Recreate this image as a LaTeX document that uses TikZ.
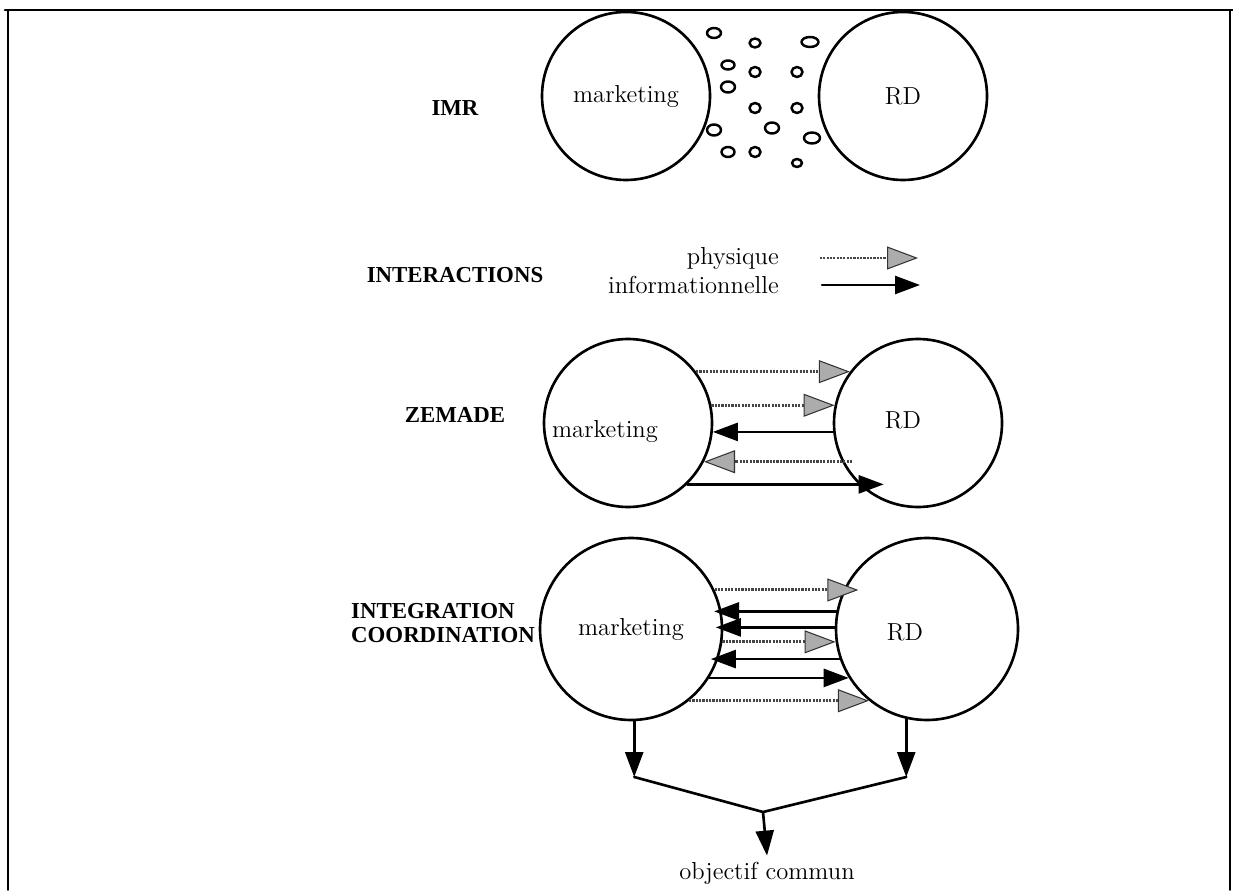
\documentclass[tikz,border=0pt]{standalone}
\usepackage{fontspec}
\usepackage{tikz}
\usetikzlibrary{arrows.meta,calc,positioning}
\newfontfamily\titrefont{Liberation Serif}

\begin{document}
\begin{tikzpicture}[scale=1.0,line cap=round,line join=round,x=1.0cm,y=1.0cm,
  bulle/.style={circle,draw,line width=1.5pt,minimum size=3.36cm,inner sep=0pt},
  grande/.style={bulle,minimum size=3.64cm},
  titre/.style={font=\titrefont\fontsize{13}{13.5}\selectfont\bfseries},
  texte/.style={font=\fontsize{14}{16}\selectfont},
  info/.style={line width=1.5pt,-{Triangle[length=0.5cm,width=0.36cm]}},
  phys/.style={draw=gray!55!black,line width=1.7pt,line cap=butt,dash pattern=on 1.2pt off 0.7pt,
    -{Triangle[length=0.62cm,width=0.46cm,fill=gray!65,color=gray!40!black,line width=0.6pt]}}]
\useasboundingbox (0,0) rectangle (24.66,17.8);
% cadre
\draw[line width=1pt] (0.16,0) -- (0.16,17.6);
\draw[line width=1.6pt] (0.1,17.6) -- (24.66,17.6);
\draw[line width=1pt] (24.6,17.6) -- (24.6,0);

% IMR
\node[titre] (imr) at (9.1,15.64) {IMR};
\node[bulle] (m1) at (12.52,15.88) {};
\node[bulle] (r1) at (18.06,15.88) {};
\node[texte] (tm1) at (m1) {marketing};
\node[texte] (tr1) at (r1) {RD};
\foreach \x/\y/\a/\b in {14.28/17.14/0.14/0.1, 15.10/16.94/0.11/0.09, 16.20/16.96/0.17/0.1,
  14.56/16.50/0.13/0.09, 15.10/16.36/0.11/0.1, 15.94/16.36/0.11/0.1,
  14.56/16.06/0.14/0.11, 15.10/15.64/0.11/0.1, 15.94/15.64/0.11/0.1,
  14.28/15.20/0.14/0.11, 15.44/15.24/0.14/0.11, 16.24/15.04/0.16/0.11,
  14.56/14.76/0.13/0.1, 15.10/14.76/0.11/0.1, 15.94/14.54/0.1/0.08}
  \draw[line width=1.4pt] (\x,\y) ellipse ({\a} and {\b});

% INTERACTIONS
\node[titre] (inter) at (9.1,12.3) {INTERACTIONS};
\node[texte,anchor=east] (phy) at (15.7,12.64) {physique};
\node[texte,anchor=east] (inf) at (15.7,12.1) {informationnelle};
\coordinate (p0) at (16.4,12.64);
\coordinate (p1) at (18.36,12.64);
\coordinate (i0) at (16.44,12.1);
\coordinate (i1) at (18.4,12.1);
\draw[phys] (p0) -- (p1);
\draw[info] (i0) -- (i1);

% ZEMADE
\node[titre] (zem) at (9.1,9.5) {ZEMADE};
\node[bulle] (m2) at (12.56,9.34) {};
\node[bulle] (r2) at (18.36,9.34) {};
\node[texte] (tm2) at ($(m2)+(-0.46,-0.16)$) {marketing};
\node[texte] (tr2) at ($(r2)+(-0.3,0.06)$) {RD};
\draw[phys] (m2.37) -- (r2.143);
\draw[phys] (m2.12) -- (r2.168);
\draw[info] (r2.186) -- (m2.-6);
\draw[phys,shorten <=-0.2cm] (r2.207) -- (m2.-27);
\draw[info,shorten >=-0.5cm] (m2.-46) -- (r2.226);

% INTEGRATION COORDINATION
\node[titre,anchor=west,align=left] (integ) at (6.9,5.34) {INTEGRATION\\COORDINATION};
\node[grande] (m3) at (12.62,5.22) {};
\node[grande] (r3) at (18.54,5.22) {};
\node[texte] (tm3) at (m3) {marketing};
\node[texte] (tr3) at ($(r3)+(-0.44,-0.06)$) {RD};
\draw[phys,shorten >=-0.3cm] (m3.25) -- (r3.155);
\draw[info,shorten >=-0.15cm] (r3.169) -- (m3.11);
\draw[info,shorten >=-0.15cm] (r3.179) -- (m3.1);
\draw[phys] (m3.-8) -- (r3.188);
\draw[info,shorten >=-0.15cm] (r3.199) -- (m3.-19);
\draw[info] (m3.-32) -- (r3.212);
\draw[phys] (m3.-51) -- (r3.231);

% objectif commun
\coordinate (bas) at (0,2.26);
\coordinate (tg) at (m3.-88 |- bas);
\coordinate (td) at (r3.-103 |- bas);
\coordinate (j) at (15.26,1.56);
\node[texte] (obj) at (15.34,0.34) {objectif commun};
\draw[info] (m3.-88) -- (tg);
\draw[info] (r3.-103) -- (td);
\draw[line width=1.5pt] (tg) -- (j) -- (td);
\draw[info] (j) -- (obj.north);
\end{tikzpicture}
\end{document}
